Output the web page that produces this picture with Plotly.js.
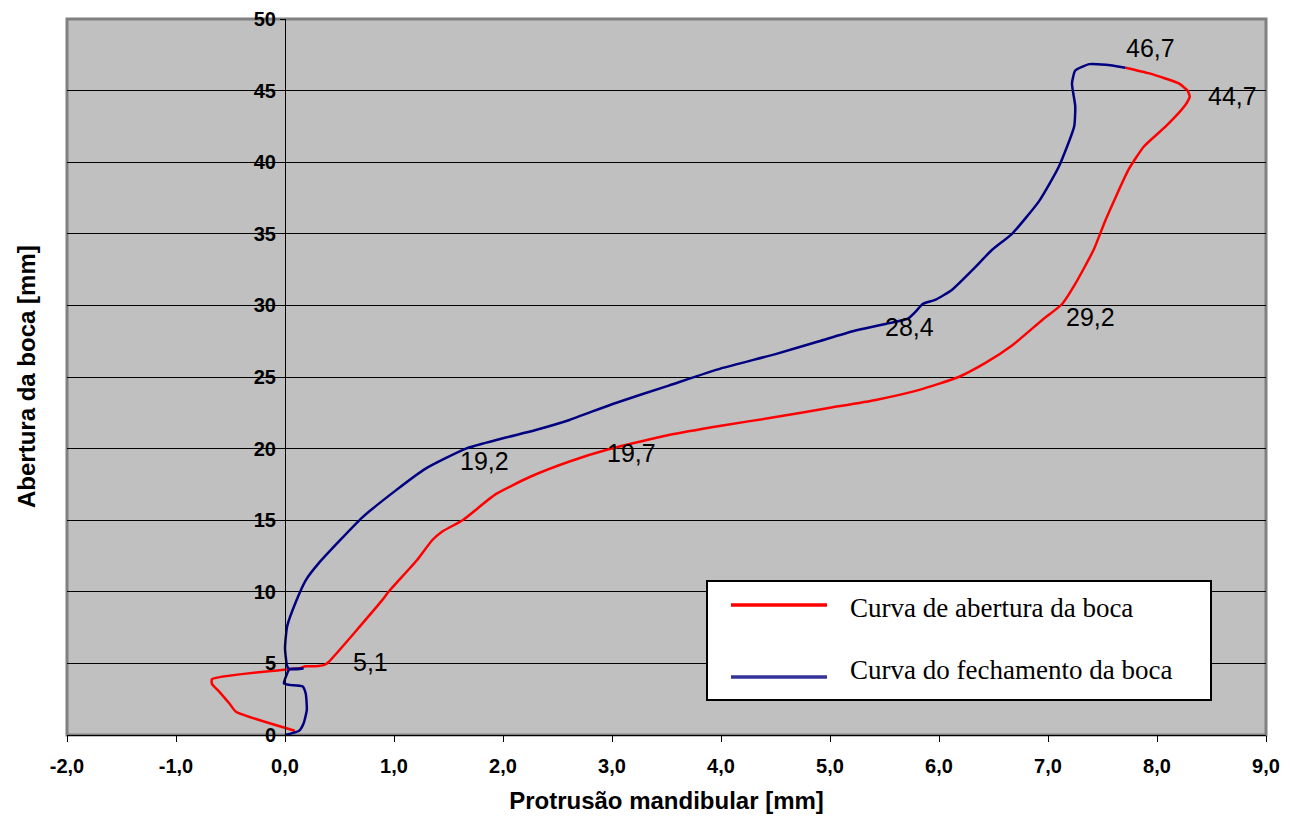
<!DOCTYPE html>
<html>
<head>
<meta charset="utf-8">
<script src="https://cdn.plot.ly/plotly-3.0.1.min.js"></script>
<style>html,body{margin:0;padding:0;background:#fff;}#chart{width:1290px;height:820px;}</style>
</head>
<body>
<div id="chart"></div>
<script>
// Opening curve (Curva de abertura da boca)
const openX = [0.09,-0.45,-0.51,-0.60,-0.67,-0.67,0.04,0.13,0.19,0.28,0.36,0.40,0.89,0.95,1.21,1.35,1.44,1.63,1.93,2.24,2.61,2.97,3.52,4.00,4.50,5.00,5.42,5.82,6.18,6.43,6.67,6.95,7.13,7.25,7.42,7.53,7.74,7.88,8.08,8.26,8.30,8.28,8.20,7.93,7.71];
const openY = [0.3,1.63,2.2,3.0,3.56,3.9,4.6,4.65,4.8,4.8,4.9,5.1,9.4,10.0,12.2,13.6,14.2,15.0,16.8,18.0,19.1,19.95,20.95,21.6,22.2,22.85,23.4,24.1,25.0,26.0,27.2,29.0,30.1,31.5,33.9,36.0,39.5,41.1,42.5,44.0,44.6,45.0,45.5,46.2,46.6];
// Closing curve (Curva do fechamento da boca)
const closeX = [7.71,7.53,7.38,7.25,7.22,7.25,7.24,7.10,6.92,6.67,6.49,6.31,6.12,5.97,5.85,5.79,5.72,5.51,5.21,4.90,4.50,4.00,3.52,3.00,2.61,2.30,1.99,1.66,1.29,1.02,0.71,0.31,0.19,0.10,0.02,0.00,0.02,0.04,0.17,0.04,0.02,-0.01,0.04,0.16,0.19,0.20,0.17,0.13,0.00];
const closeY = [46.6,46.8,46.85,46.4,45.5,43.9,42.5,39.7,37.3,35.0,33.9,32.5,31.1,30.4,30.1,29.6,29.1,28.7,28.2,27.5,26.6,25.6,24.4,23.1,22.0,21.3,20.7,20.0,18.6,17.1,15.2,12.0,10.8,9.3,7.6,6.05,4.8,4.6,4.65,4.6,4.3,3.6,3.5,3.4,2.9,1.75,0.8,0.3,0.0];
// Data labels
const labelText = ["5,1","19,2","19,7","28,4","29,2","46,7","44,7"];
const labelX = [0.78,1.83,3.18,5.73,7.39,7.94,8.69];
const labelY = [5.1,19.1,19.7,28.5,29.2,48.0,44.6];
// Legend
const seriesNames = ["Curva de abertura da boca","Curva do fechamento da boca"];
const seriesColors = ["#FF0000","#000080"];
const legendColors = ["#FF0000","#333399"];
// Axis ticks
const xTicks = [-2,-1,0,1,2,3,4,5,6,7,8,9];
const xTickText = ["-2,0","-1,0","0,0","1,0","2,0","3,0","4,0","5,0","6,0","7,0","8,0","9,0"];

const W = 1290, H = 820, ML = 67, MR = 24, MT = 19, MB = 85;
const PW = W - ML - MR, PH = H - MT - MB;
const px = v => (v - ML) / PW;
const py = v => (H - MB - v) / PH;

const traces = [
  {x: openX, y: openY, type: 'scatter', mode: 'lines', name: seriesNames[0],
   line: {color: seriesColors[0], width: 2.5, shape: 'spline', smoothing: 0.5}, showlegend: false, hoverinfo: 'skip'},
  {x: closeX, y: closeY, type: 'scatter', mode: 'lines', name: seriesNames[1],
   line: {color: seriesColors[1], width: 2.5, shape: 'spline', smoothing: 0.5}, showlegend: false, hoverinfo: 'skip'}
];

const annotations = labelText.map((t, i) => ({
  x: labelX[i], y: labelY[i], xref: 'x', yref: 'y', text: t, showarrow: false,
  font: {family: 'Arial, "Liberation Sans", sans-serif', size: 25, color: '#000'},
  xanchor: 'center', yanchor: 'middle'
}));
annotations.push(
  {x: px(848), y: py(608), xref: 'paper', yref: 'paper', text: seriesNames[0], showarrow: false,
   xanchor: 'left', yanchor: 'middle', font: {family: '"Times New Roman", "Liberation Serif", serif', size: 27, color: '#000'}},
  {x: px(848), y: py(670), xref: 'paper', yref: 'paper', text: seriesNames[1], showarrow: false,
   xanchor: 'left', yanchor: 'middle', font: {family: '"Times New Roman", "Liberation Serif", serif', size: 27, color: '#000'}},
  {x: 0.0, xref: 'paper', xshift: -41, y: 0.5, yref: 'paper', text: '<b>Abertura da boca [mm]</b>',
   showarrow: false, textangle: -90, xanchor: 'center', yanchor: 'middle',
   font: {family: 'Arial, "Liberation Sans", sans-serif', size: 24, color: '#000'}}
);

const shapes = [
  {type: 'rect', xref: 'paper', yref: 'paper', x0: 0, x1: 1, y0: 0, y1: 1,
   line: {color: '#808080', width: 3}, fillcolor: 'rgba(0,0,0,0)', layer: 'below'},
  {type: 'rect', xref: 'paper', yref: 'paper', x0: px(707), x1: px(1211), y0: py(700), y1: py(581),
   line: {color: '#000', width: 2}, fillcolor: '#FFFFFF', layer: 'above'},
  {type: 'line', xref: 'paper', yref: 'paper', x0: px(731), x1: px(827), y0: py(605), y1: py(605),
   line: {color: legendColors[0], width: 3.5}},
  {type: 'line', xref: 'paper', yref: 'paper', x0: px(731), x1: px(827), y0: py(677), y1: py(677),
   line: {color: legendColors[1], width: 3.5}}
];

const tickFont = {family: 'Arial, "Liberation Sans", sans-serif', size: 20, color: '#000', weight: 'bold'};
const layout = {
  width: W, height: H,
  margin: {l: ML, r: MR, t: MT, b: MB, pad: 0},
  paper_bgcolor: '#FFFFFF', plot_bgcolor: '#C0C0C0',
  showlegend: false,
  xaxis: {
    range: [-2, 9], tickmode: 'array', tickvals: xTicks, ticktext: xTickText,
    ticks: 'outside', ticklen: 6, tickcolor: '#000', tickwidth: 1,
    showline: true, linecolor: '#000', linewidth: 1, showgrid: false, zeroline: false,
    tickfont: tickFont, ticklabelstandoff: 7,
    title: {text: '<b>Protrusão mandibular [mm]</b>', standoff: 16,
            font: {family: 'Arial, "Liberation Sans", sans-serif', size: 24, color: '#000'}}
  },
  yaxis: {
    range: [0, 50], dtick: 5, anchor: 'free', position: 2/11,
    ticks: 'outside', ticklen: 5, tickcolor: '#000', tickwidth: 1,
    showline: true, linecolor: '#000', linewidth: 1,
    showgrid: true, gridcolor: '#000', gridwidth: 1, zeroline: false,
    tickfont: tickFont, tickformat: 'd'
  },
  shapes: shapes,
  annotations: annotations
};

Plotly.newPlot('chart', traces, layout, {displayModeBar: false, staticPlot: true});
</script>
</body>
</html>
